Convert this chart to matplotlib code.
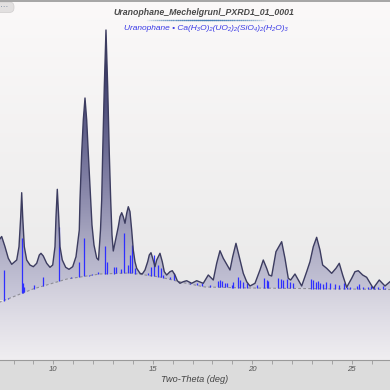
import numpy as np
import matplotlib
matplotlib.use("Agg")
import matplotlib.pyplot as plt
from matplotlib.colors import LinearSegmentedColormap
from matplotlib.patches import Polygon, FancyBboxPatch
from matplotlib.lines import Line2D

plt.rcParams['font.family'] = ['Liberation Sans', 'DejaVu Sans']

# ---------------- data ----------------
title = "Uranophane_Mechelgrunl_PXRD1_01_0001"
subtitle = "Uranophane \u2022 Ca(H\u2083O)\u2082(UO\u2082)\u2082(SiO\u2084)\u2082(H\u2082O)\u2083"
x_label = "Two-Theta (deg)"
x_major = [10, 15, 20, 25]
x_minor = list(range(8, 27))
x_range = [7.32, 26.93]
y_range = [0, 360]

# observed pattern (2-theta, intensity)
obs_theta = [7.27, 7.405, 7.571, 7.737, 7.908, 8.160, 8.275, 8.361, 8.411, 8.461,
             8.542, 8.662, 8.828, 8.994, 9.165, 9.296, 9.381, 9.497, 9.668, 9.834,
             9.970, 10.085, 10.136, 10.201, 10.271, 10.337, 10.452, 10.623, 10.789, 10.975,
             11.141, 11.227, 11.307, 11.342, 11.428, 11.508, 11.594, 11.679, 11.759, 11.880,
             11.945, 12.046, 12.182, 12.272, 12.373, 12.433, 12.483, 12.564, 12.649, 12.735,
             12.815, 12.886, 12.951, 13.016, 13.268, 13.353, 13.439, 13.519, 13.605, 13.690,
             13.771, 13.856, 13.941, 14.022, 14.107, 14.193, 14.359, 14.474, 14.610, 14.746,
             14.826, 14.912, 14.997, 15.113, 15.198, 15.364, 15.480, 15.581, 15.701, 15.867,
             15.983, 16.118, 16.234, 16.370, 16.536, 16.707, 16.958, 17.209, 17.541, 17.793,
             18.044, 18.215, 18.381, 18.547, 18.884, 19.020, 19.185, 19.351, 19.553, 19.723,
             19.889, 20.141, 20.392, 20.558, 20.729, 20.845, 20.980, 21.196, 21.483, 21.649,
             21.815, 21.935, 22.152, 22.318, 22.489, 22.740, 22.906, 23.072, 23.242, 23.409,
             23.544, 23.745, 23.997, 24.213, 24.379, 24.550, 24.751, 25.003, 25.168, 25.334,
             25.555, 25.756, 26.088, 26.390, 26.677, 26.928, 27.18]
obs_int = [120, 123.5, 113.3, 101.7, 95.7, 100, 113.3, 143.3, 167.3, 143.3,
           113.3, 100, 95, 93.3, 96.7, 105, 106.7, 104, 96.7, 92.7,
           95, 113.3, 143.3, 170.7, 143.3, 113.3, 100, 92.7, 90.7, 93.3,
           103.3, 116.7, 130, 160, 207, 240, 262, 240, 207, 160,
           135, 115, 102, 100, 130, 160, 207, 273, 330, 273,
           207, 160, 125, 109, 133.3, 143.3, 147.3, 143.3, 136.7, 146.7,
           153.3, 148.3, 130, 110, 98.3, 91.7, 86.7, 86, 90, 98.3,
           105, 107.3, 101.7, 93.3, 100, 106.7, 98.3, 88.3, 85, 88.3,
           89.3, 85, 79.3, 76.7, 78.3, 79.3, 76.7, 79.3, 76.7, 85,
           80, 96.7, 109.3, 101.7, 90, 103.3, 116.7, 103.3, 86.7, 78.3,
           74, 76.7, 90, 100, 91.7, 85, 84, 108.3, 118.3, 101.7,
           81.7, 80, 86, 80, 74, 88.3, 98.3, 113.3, 122.7, 110,
           95, 91.7, 86.7, 91.7, 96.7, 85, 72.7, 81.7, 88.3, 89.3,
           85, 82.7, 71.7, 80, 74, 78.3, 81]

# background (2-theta, intensity)
bg_theta = [7.2, 7.32, 8.98, 10.69, 12.35, 13.86, 15.36, 16.62, 17.63, 19.89, 22.40, 26.93, 27.2]
bg_int = [57, 58, 71, 81, 86, 87, 83, 77, 73, 72, 71.5, 70.5, 70.5]

# reference pattern sticks (2-theta, top intensity)
stick_theta = [7.496, 7.737, 8.411, 8.491, 8.542, 9.044, 9.467, 9.618, 10.271, 10.875,
               11.292, 11.528, 11.810, 11.930, 12.262, 12.614, 12.685, 13.067, 13.152, 13.419,
               13.569, 13.740, 13.856, 13.982, 14.107, 14.746, 14.912, 15.063, 15.279, 15.415,
               15.531, 15.867, 16.094, 16.873, 17.039, 17.250, 17.461, 17.878, 18.296, 18.381,
               18.466, 18.632, 18.733, 18.969, 19.050, 19.301, 19.412, 19.553, 19.738, 20.226,
               20.618, 20.729, 20.809, 21.312, 21.433, 21.564, 21.775, 21.900, 22.066, 22.956,
               23.057, 23.207, 23.323, 23.409, 23.575, 23.710, 23.911, 24.163, 24.379, 24.615,
               24.781, 24.917, 25.254, 25.385, 25.586, 25.837, 25.958, 26.124, 26.340, 26.561,
               26.677]
stick_top = [90, 62.5, 122.5, 77.3, 72.7, 75, 83.3, 75, 132.7, 82.7,
             98.3, 121.7, 85.3, 85.7, 88.3, 114, 98.3, 92.7, 92.7, 91,
             127.3, 95, 105, 115, 92, 87.5, 93, 105, 95, 91.7,
             85, 83.5, 87, 77, 75.5, 76.7, 77, 75, 79.5, 80,
             79.3, 76.7, 77, 75.5, 78.3, 83, 80.5, 78.3, 77.5, 75,
             82.5, 80, 79.3, 81.7, 80.7, 80, 81.5, 78.3, 76.7, 81,
             80, 78.3, 79, 76.7, 76, 78.3, 76.7, 76, 75, 76.7,
             73, 73.5, 74, 76, 73.5, 72.7, 74, 74, 73, 74,
             72.5]

# ---------------- figure ----------------
W, H = 390, 390
fig = plt.figure(figsize=(W / 100, H / 100), dpi=100)
fig.patch.set_facecolor('#dcdcdc')
ax = fig.add_axes([0, 30 / H, 1, 360 / H])
ax.set_xlim(*x_range)
ax.set_ylim(*y_range)

# plot background gradient
bg_cmap = LinearSegmentedColormap.from_list('bgc', ['#e6e6e6', '#fbf9f9'])
grad = np.linspace(0, 1, 256).reshape(-1, 1)
ax.imshow(grad, extent=[x_range[0], x_range[1], y_range[0], y_range[1]], origin='lower',
          aspect='auto', cmap=bg_cmap, zorder=0)

# lower fill below background curve
low_poly = Polygon(np.column_stack([bg_theta + [bg_theta[-1], bg_theta[0]],
                                    bg_int + [0, 0]]), closed=True,
                   facecolor='none', edgecolor='none')
ax.add_patch(low_poly)
low_cmap = LinearSegmentedColormap.from_list('low', ['#f0eef1', '#dedce5', '#c9c7d6'])
im_low = ax.imshow(grad, extent=[x_range[0], x_range[1], 0, 90], origin='lower',
                   aspect='auto', cmap=low_cmap, zorder=1)
im_low.set_clip_path(low_poly)

# peak fill between background and observed
pk_verts = np.concatenate([np.column_stack([obs_theta, obs_int]),
                           np.column_stack([bg_theta[::-1], bg_int[::-1]])])
pk_poly = Polygon(pk_verts, closed=True, facecolor='none', edgecolor='none')
ax.add_patch(pk_poly)
pk_cmap = LinearSegmentedColormap.from_list(
    'pk', [(0.0, '#cac9da'), (0.15, '#b5b4ca'), (0.45, '#7f7ea3'), (0.75, '#4a4a78'), (1.0, '#22224f')])
im_pk = ax.imshow(grad, extent=[x_range[0], x_range[1], 60, 335], origin='lower',
                  aspect='auto', cmap=pk_cmap, zorder=2)
im_pk.set_clip_path(pk_poly)

# background dashed line
ax.plot(bg_theta, bg_int, color='#8e8e96', lw=0.8, ls=(0, (2.5, 2)), zorder=3)

# sticks
stick_base = np.interp(stick_theta, bg_theta, bg_int)
ax.vlines(stick_theta, stick_base, stick_top, color='#2f2fff', lw=0.9, zorder=4)

# observed line
ax.plot(obs_theta, obs_int, color='#3c3c60', lw=1.0, zorder=5, solid_joinstyle='round')

# axes styling
for s in ['top', 'left', 'right']:
    ax.spines[s].set_visible(False)
ax.spines['bottom'].set_color('#9a9a9a')
ax.spines['bottom'].set_linewidth(0.8)
ax.set_yticks([])
ax.set_xticks(x_major)
ax.set_xticks(x_minor, minor=True)
ax.set_xticklabels([str(v) for v in x_major], fontsize=5.6, style='italic', color='#555555')
ax.tick_params(axis='x', which='both', direction='out', length=2.8, width=0.6,
               color='#9a9a9a', pad=1.8)
ax.set_xlabel(x_label, fontsize=6.6, style='italic', color='#444444', labelpad=1.5)

# titles
fig.text(204 / W, 1 - 12.5 / H, title, ha='center', va='center', fontsize=6.3,
         fontweight='bold', style='italic', color='#4a4a4a')
# underline gradient
ul_x = np.linspace(145, 265, 60)
for i in range(len(ul_x) - 1):
    t = (ul_x[i] - 205) / 60.0
    a = max(0.0, 1 - abs(t)) ** 0.7
    fig.add_artist(Line2D([ul_x[i] / W, ul_x[i + 1] / W], [1 - 19.5 / H, 1 - 19.5 / H],
                          color='#4a7fb5', alpha=a, lw=0.9))
fig.text(205.5 / W, 1 - 28 / H, subtitle, ha='center', va='center', fontsize=6.0,
         style='italic', color='#3a3ae6', family=['Liberation Sans', 'DejaVu Sans'])

# top border
fig.add_artist(Line2D([0, 1], [1 - 0.6 / H, 1 - 0.6 / H], color='#a5a5a5', lw=1.4))

# top-left button
btn = FancyBboxPatch((-8 / W, 1 - 12.5 / H), 22 / W, 10.5 / H,
                     boxstyle='round,pad=0,rounding_size=0.012',
                     transform=fig.transFigure, facecolor='#e2e0e0', edgecolor='#d0cece', lw=0.5)
fig.add_artist(btn)
fig.text(4 / W, 1 - 7.5 / H, "\u00b7\u00b7\u00b7", ha='center', va='center', fontsize=6,
         color='#6a7d95')

fig.savefig('out.png', dpi=100)
